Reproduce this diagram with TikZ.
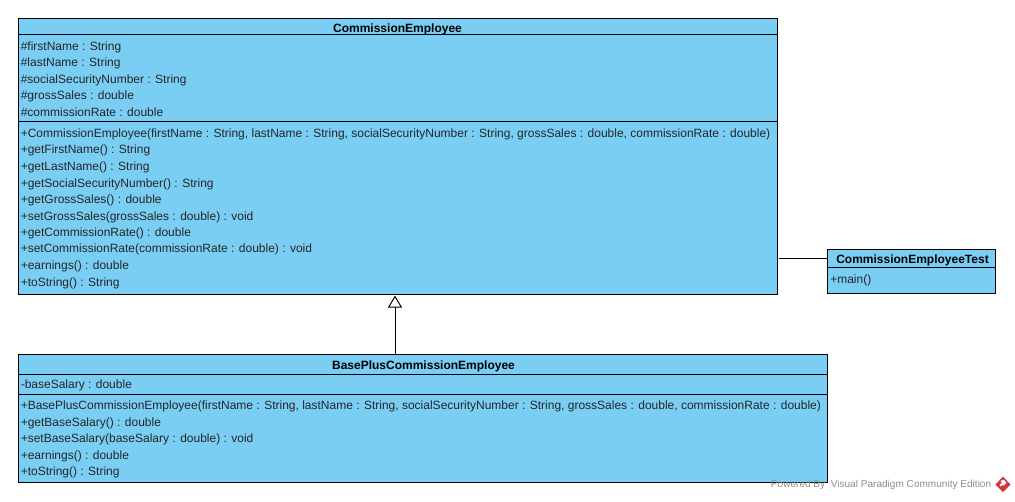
\documentclass[tikz,border=0pt]{standalone}
\usepackage{fontspec}
\setmainfont{Liberation Sans}
\usepackage{xcolor}
\usetikzlibrary{positioning,arrows.meta}
\definecolor{umlblue}{HTML}{7ACEF4}
\definecolor{wmgray}{HTML}{8C8C8C}
\definecolor{wmred}{HTML}{D2363A}
\tikzset{
    classbox/.style = {draw,fill=umlblue,line width=0.8pt,minimum width=#1*0.75pt,inner sep=0pt,anchor=north west},
    classline/.style = {line width=0.75pt},
    classname/.style = {font=\fontsize{9pt}{10pt}\selectfont\bfseries,inner sep=0pt,anchor=base},
    member/.style = {font=\fontsize{9pt}{10pt}\selectfont,inner sep=0pt,anchor=base west,text=black!85},
    generalize/.style = {-{Triangle[open,fill=white,length=9pt,width=10.5pt]},line width=0.75pt},
}
\begin{document}
\begin{tikzpicture}[x=0.75pt,y=-0.75pt]
            \useasboundingbox (0,0) rectangle (1015,501);
            % the three boxes
            \node[classbox=759,minimum height=276*0.75pt] (employee) at (18,18) {};
            \node[classbox=809,minimum height=128*0.75pt] (basePlus) at (18,354) {};
            \node[classbox=168,minimum height=44*0.75pt] (test) at (827,249) {};
            % compartment lines
            \draw[classline] (employee.west |- 0,34.5) -- (employee.east |- 0,34.5);
            \draw[classline] (employee.west |- 0,121) -- (employee.east |- 0,121);
            \draw[classline] (basePlus.west |- 0,374) -- (basePlus.east |- 0,374);
            \draw[classline] (basePlus.west |- 0,394) -- (basePlus.east |- 0,394);
            \draw[classline] (test.west |- 0,267) -- (test.east |- 0,267);
            % class names
            \node[classname] (employeeName) at (397.5,32.5) {CommissionEmployee};
            \node[classname] (basePlusName) at (423.5,369) {BasePlusCommissionEmployee};
            \node[classname] (testName) at (912.5,263.5) {CommissionEmployeeTest};
            % members
            \foreach \y/\txt [count=\i] in {
                46/{\#firstName : String},
                62/{\#lastName : String},
                79/{\#socialSecurityNumber : String},
                95/{\#grossSales : double},
                112/{\#commissionRate : double},
                133/{+CommissionEmployee(firstName : String, lastName : String, socialSecurityNumber : String, grossSales : double, commissionRate : double)},
                149/{+getFirstName() : String},
                166/{+getLastName() : String},
                183/{+getSocialSecurityNumber() : String},
                199/{+getGrossSales() : double},
                216/{+setGrossSales(grossSales : double) : void},
                232/{+getCommissionRate() : double},
                248/{+setCommissionRate(commissionRate : double) : void},
                265/{+earnings() : double},
                282/{+toString() : String},
                384/{-baseSalary : double},
                405/{+BasePlusCommissionEmployee(firstName : String, lastName : String, socialSecurityNumber : String, grossSales : double, commissionRate : double)},
                422/{+getBaseSalary() : double},
                438/{+setBaseSalary(baseSalary : double) : void},
                455/{+earnings() : double},
                471/{+toString() : String}} {
                \node[member] (m\i) at (20.5,\y+4) {\txt};
            }
            \node[member] (mainOp) at (830,283) {+main()};
            % connectors
            \coordinate (assocEnd) at (779,258);
            \coordinate (triTip) at (395,295.5);
            \draw[classline] (assocEnd) -- (assocEnd -| test.west);
            \draw[generalize] (395,354) -- (triTip);
            % watermark
            \node[font=\fontsize{7.55pt}{8pt}\selectfont,text=wmgray,inner sep=0pt,anchor=east] (poweredBy) at (991.5,485) {Powered By\ \ Visual Paradigm Community Edition};
            \fill[wmred] (1003,476.5) -- (1010.5,484.5) -- (1003,492) -- (995.5,484.5) -- cycle;
            \fill[white] (1000.5,481) -- (1003.5,479.5) -- (1006.5,482.5) -- (1003.5,485.5) -- (1002.5,484.5) -- (1001,486.5) -- (999.5,485) -- (1002,483) -- cycle;
        \end{tikzpicture}
\end{document}
